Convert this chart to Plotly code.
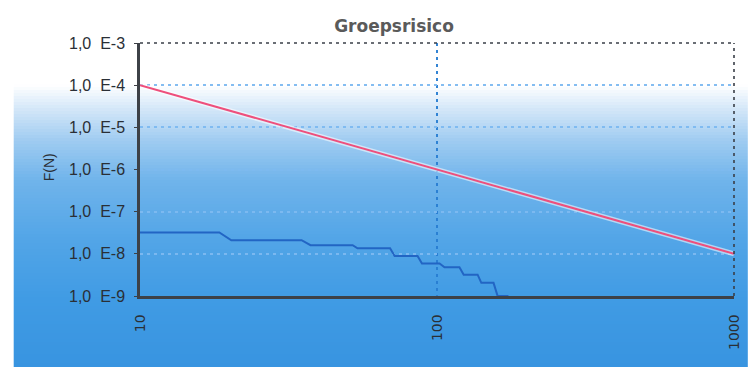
import plotly.graph_objects as go

# Group risk (FN curve) data
norm_n = [10, 1000]
norm_f = [1e-4, 1e-8]

risk_n = [10, 18.5, 20.3, 35, 37.5, 52, 54, 69.5, 72, 86, 89, 102, 106, 119,
          123, 137, 141, 155, 160, 174]
risk_f = [3.2e-8, 3.2e-8, 2.1e-8, 2.1e-8, 1.6e-8, 1.6e-8, 1.35e-8, 1.35e-8,
          8.9e-9, 8.9e-9, 5.9e-9, 5.9e-9, 4.8e-9, 4.8e-9, 3.2e-9, 3.2e-9,
          2.05e-9, 2.05e-9, 1e-9, 1e-9]

y_tickvals = [1e-9, 1e-8, 1e-7, 1e-6, 1e-5, 1e-4, 1e-3]
y_ticktext = ["1,0\u00a0\u00a0E-9", "1,0\u00a0\u00a0E-8", "1,0\u00a0\u00a0E-7",
              "1,0\u00a0\u00a0E-6", "1,0\u00a0\u00a0E-5", "1,0\u00a0\u00a0E-4",
              "1,0\u00a0\u00a0E-3"]
x_tickvals = [10, 100, 1000]
x_ticktext = ["10", "100", "1000"]

W, H = 754, 374
ML, MR, MT, MB = 140, 12, 43, 78
PW, PH = W - ML - MR, H - MT - MB


def px(x):
    return (x - ML) / PW


def py(y):
    return (H - MB - y) / PH


# vertical background gradient (white at top, blue at the bottom)
stops = [(0, (255, 255, 255)), (85, (255, 255, 255)), (110, (210, 230, 248)),
         (140, (160, 204, 241)), (180, (112, 180, 235)), (240, (82, 165, 231)),
         (300, (64, 155, 228)), (367, (56, 148, 224))]


def col_at(y):
    for (y0, c0), (y1, c1) in zip(stops[:-1], stops[1:]):
        if y0 <= y <= y1:
            t = (y - y0) / (y1 - y0) if y1 > y0 else 0
            return tuple(round(a + (b - a) * t) for a, b in zip(c0, c1))
    return stops[-1][1]


shapes = []
step = 3
for y in range(60, 367, step):
    c = col_at(y + step / 2)
    shapes.append(dict(type="rect", xref="paper", yref="paper",
                       x0=px(12), x1=px(W + 2), y0=py(min(y + step, 367)), y1=py(y),
                       fillcolor="rgb(%d,%d,%d)" % c, line=dict(width=0),
                       layer="below"))

# dashed frame on top and right
shapes.append(dict(type="line", xref="paper", yref="paper", x0=0, x1=1, y0=1, y1=1,
                   line=dict(color="#3a3f48", width=1.6, dash="3px,4px"), layer="above"))
shapes.append(dict(type="line", xref="paper", yref="paper", x0=1, x1=1, y0=0, y1=1,
                   line=dict(color="#3a3f48", width=1.6, dash="3px,4px"), layer="above"))

fig = go.Figure()
fig.add_trace(go.Scatter(x=norm_n, y=norm_f, mode="lines",
                         line=dict(color="rgba(255,255,255,0.55)", width=5),
                         hoverinfo="skip", showlegend=False))
fig.add_trace(go.Scatter(x=norm_n, y=norm_f, mode="lines",
                         line=dict(color="#ee4f7c", width=2), showlegend=False))
fig.add_trace(go.Scatter(x=risk_n, y=risk_f, mode="lines",
                         line=dict(color="#2265c4", width=2), showlegend=False))

fig.update_layout(
    width=W, height=H,
    margin=dict(l=ML, r=MR, t=MT, b=MB),
    paper_bgcolor="white",
    plot_bgcolor="rgba(0,0,0,0)",
    shapes=shapes,
    title=dict(text="<b>Groepsrisico</b>", x=394 / W, xanchor="center",
               y=1 - 26 / H, yanchor="middle",
               font=dict(family="DejaVu Sans", size=17, color="#5a5a5a")),
    annotations=[dict(text="F(N)", xref="paper", yref="paper", x=px(48), y=py(167),
                      xanchor="center", yanchor="middle", textangle=-90,
                      showarrow=False,
                      font=dict(family="Liberation Sans", size=14, color="#2a2f36"))],
    xaxis=dict(type="log", range=[1, 3], tickvals=x_tickvals, ticktext=x_ticktext,
               tickangle=-90, showgrid=True, gridcolor="rgba(40,125,210,0.95)",
               griddash="3px,4px", gridwidth=1.5, zeroline=False,
               showline=True, linecolor="#3d4147", linewidth=2.5,
               ticks="", ticklabelstandoff=10,
               tickfont=dict(family="DejaVu Sans", size=14, color="#2a2f36")),
    yaxis=dict(type="log", range=[-9, -3], tickvals=y_tickvals, ticktext=y_ticktext,
               showgrid=True, gridcolor="rgba(125,185,240,0.95)", griddash="3px,4px",
               gridwidth=1.5, zeroline=False,
               showline=True, linecolor="#3d4147", linewidth=2.5,
               ticks="outside", ticklen=3, tickcolor="#3d4147",
               ticklabelstandoff=6,
               tickfont=dict(family="Liberation Sans", size=16, color="#2a2f36")),
)

fig.write_html("out.html")
